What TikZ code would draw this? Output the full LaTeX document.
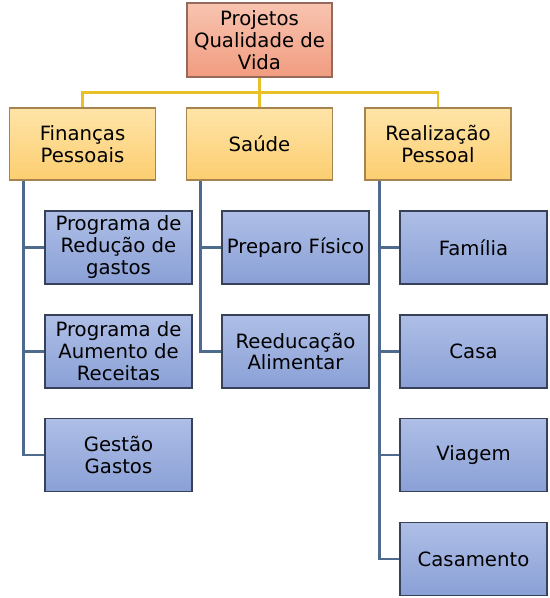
\documentclass[tikz,border=0pt]{standalone}
\usepackage{fontspec}
\setmainfont{DejaVu Sans}
\definecolor{rootTop}{RGB}{248,196,176}
\definecolor{rootBot}{RGB}{241,156,128}
\definecolor{rootLine}{RGB}{150,105,90}
\definecolor{areaTop}{RGB}{254,228,168}
\definecolor{areaBot}{RGB}{252,206,112}
\definecolor{areaLine}{RGB}{165,132,80}
\definecolor{projTop}{RGB}{174,190,230}
\definecolor{projBot}{RGB}{138,160,214}
\definecolor{projLine}{RGB}{55,66,90}
\definecolor{goldLink}{RGB}{232,192,40}
\definecolor{blueLink}{RGB}{78,106,140}
\begin{document}
\begin{tikzpicture}[x=0.02cm, y=-0.02cm,
  every node/.style={font=\fontsize{11.2}{12.5}\selectfont, align=center, inner sep=1pt},
  rootbox/.style={draw=rootLine, line width=0.8pt, top color=rootTop, bottom color=rootBot, minimum width=2.9cm, minimum height=1.48cm},
  areabox/.style={draw=areaLine, line width=0.8pt, top color=areaTop, bottom color=areaBot, minimum width=2.92cm, minimum height=1.44cm},
  projbox/.style={draw=projLine, line width=0.8pt, top color=projTop, bottom color=projBot, minimum width=2.94cm, minimum height=1.46cm},
  goldlink/.style={draw=goldLink, line width=1.5pt},
  bluelink/.style={draw=blueLink, line width=1.5pt}]
\fill[white] (0,0) rectangle (550,598);
\useasboundingbox (0,0) rectangle (550,598);
% topo
\node[rootbox] (root) at (259.5,40) {Projetos\\Qualidade de\\Vida};
% areas
\node[areabox] (fin) at (82.5,144) {Finanças\\Pessoais};
\node[areabox] (saude) at (259.5,144) {Saúde};
\node[areabox] (real) at (438,144) {Realização\\Pessoal};
% projetos
\node[projbox] (reducao) at (118.5,247.5) {Programa de\\Redução de\\gastos};
\node[projbox] (aumento) at (118.5,351.5) {Programa de\\Aumento de\\Receitas};
\node[projbox] (gestao) at (118.5,455) {Gestão\\Gastos};
\node[projbox] (preparo) at (295.5,247.5) {Preparo Físico};
\node[projbox] (reeduc) at (295.5,351.5) {Reeducação\\Alimentar};
\node[projbox] (familia) at (473.5,247.5) {Família};
\node[projbox] (casa) at (473.5,351.5) {Casa};
\node[projbox] (viagem) at (473.5,455) {Viagem};
\node[projbox] (casam) at (473.5,559) {Casamento};
% ligacoes
\draw[goldlink] (root) -- (saude);
\draw[goldlink] (fin.north) -- ++(0,-15) -| (real.north);
\coordinate (fin_t) at ([xshift=0.3cm]fin.south west);
\coordinate (saude_t) at ([xshift=0.3cm]saude.south west);
\coordinate (real_t) at ([xshift=0.3cm]real.south west);
\foreach \p in {reducao,aumento,gestao} \draw[bluelink] (fin_t) |- (\p.west);
\foreach \p in {preparo,reeduc} \draw[bluelink] (saude_t) |- (\p.west);
\foreach \p in {familia,casa,viagem,casam} \draw[bluelink] (real_t) |- (\p.west);
\end{tikzpicture}
\end{document}
